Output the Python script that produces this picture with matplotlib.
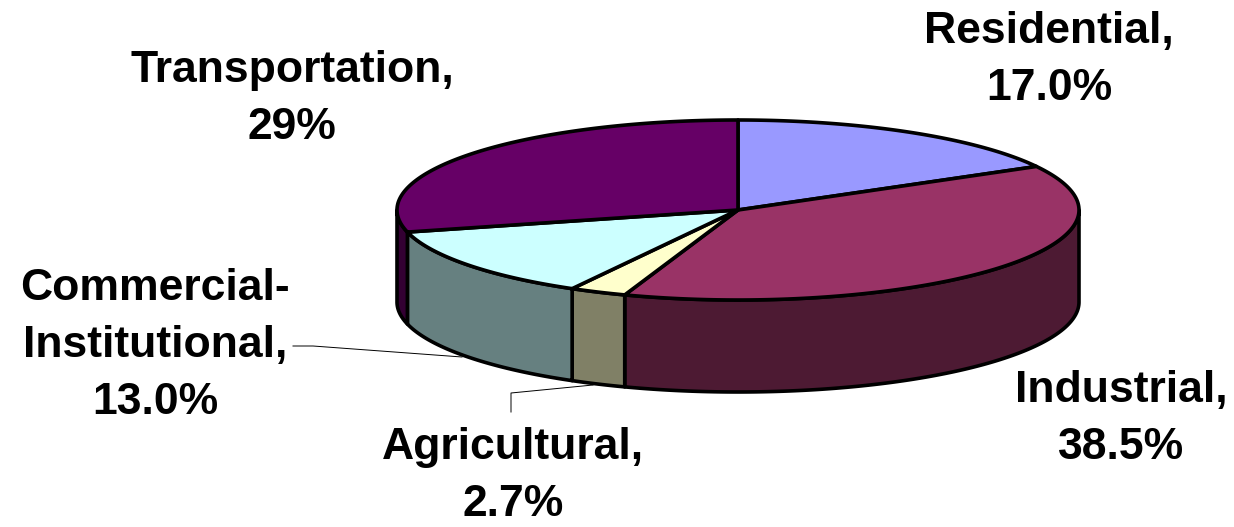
import numpy as np
import matplotlib
matplotlib.use("Agg")
import matplotlib.pyplot as plt
from matplotlib.patches import Polygon

plt.rcParams['font.family'] = ['Liberation Sans', 'DejaVu Sans']

names = ['Residential', 'Industrial', 'Agricultural', 'Commercial-\nInstitutional', 'Transportation']
values = [17.0, 38.5, 2.7, 13.0, 29]
shown = ['17.0%', '38.5%', '2.7%', '13.0%', '29%']
top_colors = ['#9999FF', '#993366', '#FFFFCC', '#CCFFFF', '#660066']
side_colors = ['#66669A', '#4D1A33', '#808066', '#668080', '#330033']

# pie geometry in pixels
cx, cy = 738, 210
rx, ry = 341, 90
depth = 92

fig, ax = plt.subplots(figsize=(12.34, 5.27), dpi=100)
ax.set_position([0, 0, 1, 1])
ax.set_xlim(0, 1234)
ax.set_ylim(527, 0)
ax.axis('off')


def arc(a0, a1):
    t = np.radians(np.linspace(a0, a1, 200))
    return np.column_stack([cx + rx * np.cos(t), cy - ry * np.sin(t)])


fracs = np.array(values) / sum(values)
ends = 90 - 360 * np.cumsum(fracs)
starts = np.concatenate([[90], ends[:-1]])

# sides first, only the front half of the rim shows
for a0, a1, c in zip(starts, ends, side_colors):
    a_hi = min(a0, 0)
    a_lo = max(a1, -180)
    if a_hi <= a_lo:
        continue
    rim = arc(a_hi, a_lo)
    low = rim[::-1] + [0, depth]
    ax.add_patch(Polygon(np.vstack([rim, low]), fc=c, ec='k', lw=2.6, joinstyle='round', zorder=2))

for a0, a1, c in zip(starts, ends, top_colors):
    pts = np.vstack([[cx, cy], arc(a0, a1)])
    ax.add_patch(Polygon(pts, fc=c, ec='k', lw=2.6, joinstyle='round', zorder=3))

# leader lines
ax.plot([293, 313, 462], [346, 346, 357], color='k', lw=0.7, zorder=1)
ax.plot([511, 511, 593], [412, 393, 385], color='k', lw=0.7, zorder=1)

label_pos = [(1049, 60), (1121, 419), (513, 476), (155, 345), (292, 99)]
for name, txt, (x, y) in zip(names, shown, label_pos):
    ax.text(x, y, name + ',\n' + txt, ha='center', va='center', fontsize=32,
            fontweight='bold', linespacing=1.5, zorder=5)

fig.savefig('out.png', dpi=100)
